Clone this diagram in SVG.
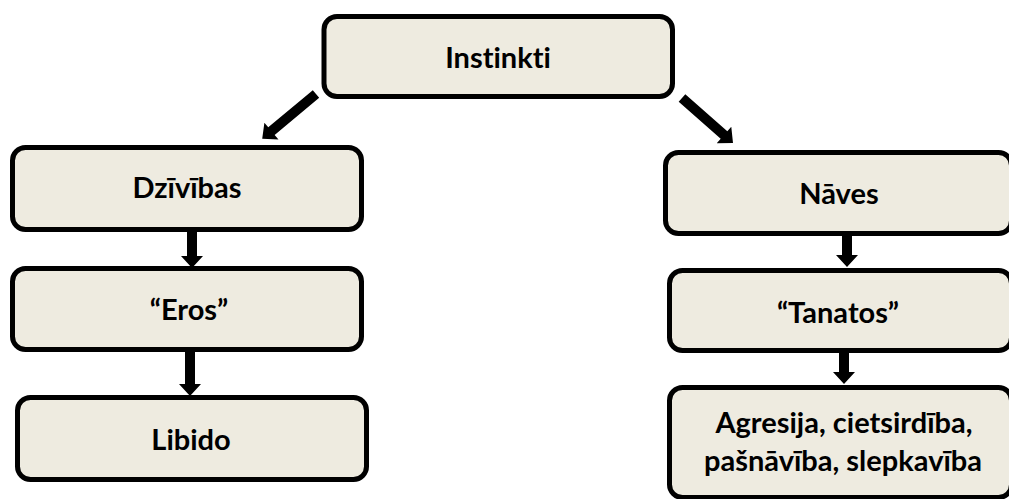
<svg xmlns="http://www.w3.org/2000/svg" width="1009" height="499" viewBox="0 0 1009 499">
  <style>
    .box { fill: #eeebe0; stroke: #000; stroke-width: 5; }
    .lbl { font-family: Lato, "Open Sans", "Noto Sans", "DejaVu Sans", sans-serif; font-weight: bold; font-size: 29px; fill: #000; text-anchor: middle; font-variant-ligatures: none; }
    .arr { fill: #000; stroke: none; }
  </style>
  <rect width="1009" height="499" fill="#fff"/>
  <g id="connectors">
    <path class="arr" transform="translate(316,94) rotate(140.2)" d="M0,-5 H58 V-11 L70,0 L58,11 V5 H0 Z"/>
    <path class="arr" transform="translate(682,98) rotate(41.4)" d="M0,-5 H56 V-11 L68,0 L56,11 V5 H0 Z"/>
    <path class="arr" transform="translate(192,231) rotate(90)" d="M0,-5 H25 V-11 L37,0 L25,11 V5 H0 Z"/>
    <path class="arr" transform="translate(190,351) rotate(90)" d="M0,-5 H33 V-11 L45,0 L33,11 V5 H0 Z"/>
    <path class="arr" transform="translate(847,235) rotate(90)" d="M0,-5 H20 V-11 L32,0 L20,11 V5 H0 Z"/>
    <path class="arr" transform="translate(844,352) rotate(90)" d="M0,-5 H20 V-11 L32,0 L20,11 V5 H0 Z"/>
  </g>
  <g id="instinkti">
    <rect class="box" x="324" y="16.5" width="348.5" height="80" rx="13"/>
    <text class="lbl" x="498" y="67.5">Instinkti</text>
  </g>
  <g id="dzivibas">
    <rect class="box" x="12.5" y="147.5" width="349" height="82" rx="13"/>
    <text class="lbl" x="187" y="198">Dzīvības</text>
  </g>
  <g id="eros">
    <rect class="box" x="12.5" y="268.5" width="349" height="81" rx="13"/>
    <text class="lbl" x="189" y="320">“Eros”</text>
  </g>
  <g id="libido">
    <rect class="box" x="17.5" y="397.5" width="349" height="82" rx="13"/>
    <text class="lbl" x="191" y="450">Libido</text>
  </g>
  <g id="naves">
    <rect class="box" x="665.5" y="152.5" width="346" height="81" rx="13"/>
    <text class="lbl" x="839" y="204">Nāves</text>
  </g>
  <g id="tanatos">
    <rect class="box" x="669.5" y="270.5" width="342" height="80" rx="13"/>
    <text class="lbl" x="838" y="323">“Tanatos”</text>
  </g>
  <g id="agresija">
    <rect class="box" x="669.5" y="387.5" width="342" height="110" rx="13"/>
    <text class="lbl" x="844" y="433">Agresija, cietsirdība,</text>
    <text class="lbl" x="843" y="471">pašnāvība, slepkavība</text>
  </g>
</svg>
